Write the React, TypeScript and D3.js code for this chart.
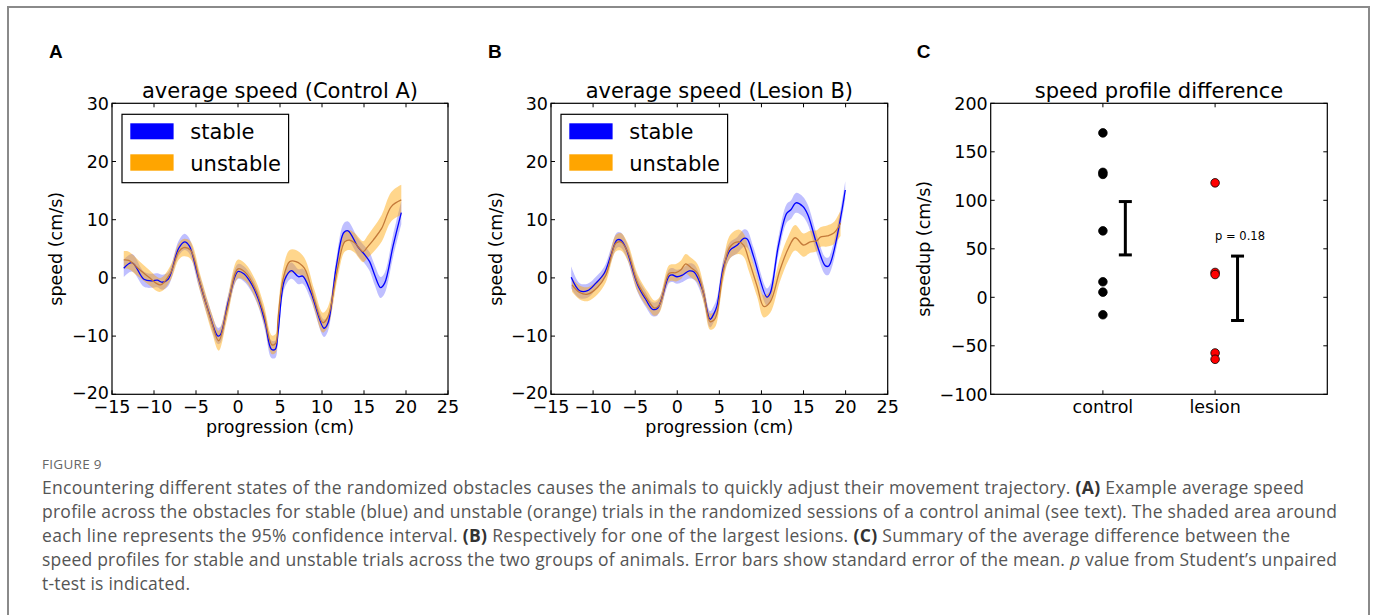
import React from "react";
import * as d3 from "d3";

// ---------- DATA ----------
// [progression (cm), mean speed (cm/s), 95% CI half-width]
const controlStable: [number, number, number][] = [
  [-13.6, 1.66, 1.5], [-12.6, 2.6, 1.5], [-11.2, -0.23, 1.3], [-10.2, -0.5, 1.2], [-9.6, -0.4, 1.2],
  [-9.0, -0.75, 1.3], [-8.3, -0.2, 1.2], [-7.06, 5.1, 1.3], [-6.35, 6.2, 1.4], [-5.8, 5.5, 1.3],
  [-4.7, -0.06, 1.3], [-3.5, -5.8, 1.3], [-2.4, -9.97, 1.4], [-2.1, -9.8, 1.4], [-1.1, -3.8, 1.3],
  [0.0, 1.1, 1.3], [0.7, 0.7, 1.3], [1.67, -1.2, 1.3], [2.46, -3.8, 1.3], [3.25, -7.8, 1.4],
  [3.97, -12.25, 1.5], [4.44, -12.25, 1.5], [4.76, -9.5, 1.4], [5.55, -0.34, 1.4], [6.35, 1.26, 1.4],
  [7.2, 0.2, 1.3], [7.7, 0.3, 1.3], [8.7, -2.6, 1.3], [10.24, -8.65, 1.5], [10.7, -7.8, 1.4],
  [11.7, 1.95, 1.4], [12.6, 7.8, 1.6], [13.1, 8.1, 1.6], [14.3, 5.27, 1.5], [15.1, 3.95, 1.5],
  [15.67, 2.8, 1.6], [16.27, 0.5, 1.7], [16.98, -1.66, 1.8], [17.46, -0.9, 1.8], [18.45, 5.4, 1.9],
  [19.44, 11.2, 2.0],
];
const controlUnstable: [number, number, number][] = [
  [-13.6, 3.1, 1.5], [-13.0, 3.0, 1.5], [-11.8, 1.55, 1.4], [-10.6, 0.1, 1.3], [-9.25, -1.2, 1.2],
  [-8.05, 0.8, 1.3], [-7.06, 4.5, 1.4], [-6.47, 5.2, 1.5], [-5.67, 4.8, 1.5], [-4.5, -0.9, 1.5],
  [-3.1, -7.8, 1.6], [-2.3, -10.8, 1.7], [-1.3, -5.5, 1.6], [0.0, 1.55, 1.6], [0.87, 0.95, 1.5],
  [2.06, -1.9, 1.6], [3.06, -6.1, 1.6], [4.05, -11.5, 1.6], [4.5, -11.2, 1.6], [4.76, -7.2, 1.7],
  [5.35, -0.3, 1.8], [6.15, 2.8, 2.0], [6.9, 2.8, 2.0], [7.9, 1.66, 1.8], [9.1, -3.8, 1.7],
  [10.1, -7.7, 1.7], [10.7, -6.7, 1.7], [11.9, 1.95, 1.7], [12.7, 6.2, 1.7], [13.3, 6.5, 1.7],
  [13.9, 6.0, 1.7], [14.9, 4.5, 1.8], [15.4, 5.3, 1.9], [16.1, 6.5, 2.1], [17.1, 8.5, 2.3],
  [18.25, 12.25, 2.5], [19.44, 13.4, 2.6],
];
const lesionStable: [number, number, number][] = [
  [-12.6, 0.1, 1.9], [-11.6, -2.2, 1.3], [-10.65, -2.2, 1.2], [-9.66, -0.9, 1.1], [-8.67, 0.8, 1.1],
  [-7.87, 3.95, 1.2], [-7.16, 6.5, 1.3], [-6.7, 6.5, 1.3], [-6.1, 5.1, 1.3], [-4.7, -1.2, 1.3],
  [-3.7, -3.8, 1.3], [-2.93, -5.4, 1.2], [-2.33, -5.2, 1.2], [-0.95, 0.35, 1.2], [-0.55, 0.5, 1.2],
  [-0.04, 0.2, 1.2], [0.64, 0.5, 1.2], [1.43, 1.2, 1.3], [2.0, 1.0, 1.3], [3.0, -2.06, 1.3],
  [3.9, -7.1, 1.4], [4.3, -6.3, 1.4], [4.7, -4.9, 1.4], [5.5, 1.95, 1.4], [6.3, 4.8, 1.4],
  [7.1, 5.6, 1.4], [7.9, 6.8, 1.5], [8.3, 6.7, 1.5], [9.07, 3.66, 1.5], [10.65, -3.3, 1.5],
  [11.05, -2.6, 1.5], [12.0, 5.4, 1.5], [13.0, 11.1, 1.6], [13.5, 11.7, 1.6], [14.1, 12.9, 1.7],
  [14.9, 12.3, 1.7], [15.5, 10.9, 1.7], [16.6, 5.7, 1.6], [17.6, 2.06, 1.5], [18.0, 2.06, 1.5],
  [19.96, 15.1, 1.5],
];
const lesionUnstable: [number, number, number][] = [
  [-12.5, -1.2, 1.2], [-11.6, -2.5, 1.2], [-10.65, -2.8, 1.2], [-9.46, -1.6, 1.2], [-8.5, 0.4, 1.2],
  [-7.3, 5.95, 1.4], [-6.7, 6.2, 1.5], [-5.9, 4.5, 1.5], [-4.7, -0.9, 1.5], [-3.5, -3.8, 1.4],
  [-2.7, -5.2, 1.3], [-2.1, -4.6, 1.3], [-0.95, 0.8, 1.4], [-0.15, 0.9, 1.5], [0.44, 1.4, 1.6],
  [1.0, 2.4, 1.7], [1.6, 1.8, 1.7], [2.4, 0.8, 1.6], [3.2, -3.2, 1.5], [3.9, -7.5, 1.4],
  [4.4, -7.2, 1.4], [4.7, -6.2, 1.5], [5.5, 1.4, 1.7], [6.3, 5.4, 2.0], [7.3, 6.2, 2.1],
  [7.9, 5.6, 2.0], [8.5, 3.1, 1.9], [9.5, -1.5, 1.8], [10.27, -4.9, 1.9], [11.05, -4.1, 1.9],
  [12.2, 1.37, 2.0], [13.2, 5.1, 2.1], [14.0, 6.9, 2.2], [15.0, 5.65, 2.0], [15.8, 6.2, 1.9],
  [16.6, 6.4, 1.8], [17.0, 7.0, 1.7], [17.8, 7.2, 1.8], [18.6, 7.7, 1.9], [19.4, 9.4, 2.2],
];

const xTicks = [-15, -10, -5, 0, 5, 10, 15, 20, 25];
const yTicks = [-20, -10, 0, 10, 20, 30];

const groups = ["control", "lesion"];
const controlSpeedup = [169.5, 128.8, 126.7, 68.5, 16, 5.3, -18];
const lesionSpeedup = [118, 25.6, 23.5, -57.4, -63.9];
const groupMean = [71.2, 9.3];
const groupSem = [27.5, 33.2];
const cTicks = [-100, -50, 0, 50, 100, 150, 200];
const pLabel = "p = 0.18";

// ---------- STYLE ----------
const FONT = "'DejaVu Sans', sans-serif";
const CAP_FONT = "'Open Sans', 'Noto Sans', sans-serif";
const LABEL_FONT = "'Liberation Sans', Arial, sans-serif";
const TICK = 17.5;
const TITLE = 21;
const BLUE = "#0000ff";
const ORANGE = "#ffa500";
const ORANGE_LINE = "#c47a3a";

const fmt = (v: number) => (v < 0 ? "\u2212" + Math.abs(v) : String(v));

type Box = { l: number; r: number; t: number; b: number };

function SpeedPanel({ box, title, stable, unstable, label, ylabelX }: {
  box: Box; title: string; stable: [number, number, number][]; unstable: [number, number, number][]; label: string; ylabelX: number;
}) {
  const x = d3.scaleLinear().domain([-15, 25]).range([box.l, box.r]);
  const y = d3.scaleLinear().domain([-20, 30]).range([box.b, box.t]);
  const curve = d3.curveCatmullRom.alpha(0.5);
  const area = d3.area<[number, number, number]>()
    .x((d) => x(d[0])).y0((d) => y(d[1] - d[2])).y1((d) => y(d[1] + d[2])).curve(curve);
  const line = d3.line<[number, number, number]>().x((d) => x(d[0])).y((d) => y(d[1])).curve(curve);
  const lx = box.l + 10, ly = box.t + 11;
  return (
    <g fontFamily={FONT}>
      <text x={box.l - 63} y={58} fontFamily={LABEL_FONT} fontWeight={700} fontSize={19} fill="#000">{label}</text>
      <text x={(box.l + box.r) / 2} y={98} textAnchor="middle" fontSize={TITLE}>{title}</text>
      <path d={area(stable) || ""} fill={BLUE} fillOpacity={0.25} />
      <path d={area(unstable) || ""} fill={ORANGE} fillOpacity={0.45} />
      <path d={line(stable) || ""} fill="none" stroke={BLUE} strokeWidth={1.3} />
      <path d={line(unstable) || ""} fill="none" stroke={ORANGE_LINE} strokeWidth={1.3} />
      {xTicks.map((t) => (
        <g key={"x" + t}>
          <line x1={x(t)} x2={x(t)} y1={box.b} y2={box.b - 4} stroke="#000" />
          <line x1={x(t)} x2={x(t)} y1={box.t} y2={box.t + 4} stroke="#000" />
          <text x={x(t)} y={box.b + 18.5} textAnchor="middle" fontSize={TICK}>{fmt(t)}</text>
        </g>
      ))}
      {yTicks.map((t) => (
        <g key={"y" + t}>
          <line x1={box.l} x2={box.l + 4} y1={y(t)} y2={y(t)} stroke="#000" />
          <line x1={box.r} x2={box.r - 4} y1={y(t)} y2={y(t)} stroke="#000" />
          <text x={box.l - 3} y={y(t) - (t === -20 ? 2 : 0)} dy="0.36em" textAnchor="end" fontSize={TICK}>{fmt(t)}</text>
        </g>
      ))}
      <rect x={box.l} y={box.t} width={box.r - box.l} height={box.b - box.t} fill="none" stroke="#000" strokeWidth={1.2} />
      <text x={(box.l + box.r) / 2} y={433} textAnchor="middle" fontSize={TICK}>progression (cm)</text>
      <text transform={`translate(${ylabelX},${(box.t + box.b) / 2}) rotate(-90)`} textAnchor="middle" fontSize={TICK}>speed (cm/s)</text>
      <g>
        <rect x={lx} y={ly} width={166.6} height={68.4} fill="#fff" stroke="#000" strokeWidth={1.2} />
        <rect x={lx + 8.3} y={ly + 9} width={43.3} height={16} fill={BLUE} />
        <rect x={lx + 8.3} y={ly + 40} width={43.3} height={16.4} fill={ORANGE} />
        <text x={lx + 68.3} y={ly + 25} fontSize={TITLE}>stable</text>
        <text x={lx + 68.3} y={ly + 56.4} fontSize={TITLE}>unstable</text>
      </g>
    </g>
  );
}

function DiffPanel({ box }: { box: Box }) {
  const x = d3.scaleLinear().domain([-1, 2]).range([box.l, box.r]);
  const y = d3.scaleLinear().domain([-100, 200]).range([box.b, box.t]);
  const pts = [controlSpeedup, lesionSpeedup];
  return (
    <g fontFamily={FONT}>
      <text x={box.l - 74} y={58} fontFamily={LABEL_FONT} fontWeight={700} fontSize={19} fill="#000">C</text>
      <text x={(box.l + box.r) / 2} y={98} textAnchor="middle" fontSize={TITLE}>speed profile difference</text>
      {groups.map((g, i) => (
        <g key={g}>
          <line x1={x(i)} x2={x(i)} y1={box.b} y2={box.b - 4} stroke="#000" />
          <line x1={x(i)} x2={x(i)} y1={box.t} y2={box.t + 4} stroke="#000" />
          <text x={x(i)} y={box.b + 18.5} textAnchor="middle" fontSize={TICK}>{g}</text>
          {pts[i].map((v, j) => (
            <circle key={j} cx={x(i)} cy={y(v)} r={4.3} fill={i === 0 ? "#000" : "#ff0000"} stroke="#000" strokeWidth={0.8} />
          ))}
          <g stroke="#000" strokeWidth={3}>
            <line x1={x(i + 0.2)} x2={x(i + 0.2)} y1={y(groupMean[i] - groupSem[i])} y2={y(groupMean[i] + groupSem[i])} />
            <line x1={x(i + 0.2) - 6.5} x2={x(i + 0.2) + 6.5} y1={y(groupMean[i] - groupSem[i])} y2={y(groupMean[i] - groupSem[i])} />
            <line x1={x(i + 0.2) - 6.5} x2={x(i + 0.2) + 6.5} y1={y(groupMean[i] + groupSem[i])} y2={y(groupMean[i] + groupSem[i])} />
          </g>
        </g>
      ))}
      {cTicks.map((t) => (
        <g key={t}>
          <line x1={box.l} x2={box.l + 4} y1={y(t)} y2={y(t)} stroke="#000" />
          <line x1={box.r} x2={box.r - 4} y1={y(t)} y2={y(t)} stroke="#000" />
          <text x={box.l - 3} y={y(t)} dy="0.36em" textAnchor="end" fontSize={TICK}>{fmt(t)}</text>
        </g>
      ))}
      <text x={x(1)} y={240} fontSize={11.5}>{pLabel}</text>
      <rect x={box.l} y={box.t} width={box.r - box.l} height={box.b - box.t} fill="none" stroke="#000" strokeWidth={1.2} />
      <text transform={`translate(930,${(box.t + box.b) / 2}) rotate(-90)`} textAnchor="middle" fontSize={TICK}>speedup (cm/s)</text>
    </g>
  );
}

const captionColor = "#555";
const boldColor = "#333";

export default function App() {
  const boxA: Box = { l: 112, r: 448, t: 103.3, b: 394.3 };
  const boxB: Box = { l: 551, r: 887.7, t: 103.3, b: 394.3 };
  const boxC: Box = { l: 990.7, r: 1327.3, t: 103.3, b: 394.3 };
  const cx = 42;
  return (
    <svg width={1375} height={615} style={{ position: "absolute", left: 0, top: 0, background: "#fff" }}>
      <rect x={0} y={0} width={1375} height={615} fill="#fff" />
      <path d="M8,620 L8,7 L1369,7 L1369,620" fill="none" stroke="#8a8a8a" strokeWidth={2} />
      <SpeedPanel box={boxA} title="average speed (Control A)" stable={controlStable} unstable={controlUnstable} label="A" ylabelX={62} />
      <SpeedPanel box={boxB} title="average speed (Lesion B)" stable={lesionStable} unstable={lesionUnstable} label="B" ylabelX={502} />
      <DiffPanel box={boxC} />
      <g fontFamily={CAP_FONT} fill={captionColor}>
        <text x={cx} y={469} fontSize={13.5} letterSpacing={0.3} fill="#666">FIGURE 9</text>
        <text x={cx} y={494} fontSize={17.5} textLength={1262} lengthAdjust="spacing">
          Encountering different states of the randomized obstacles causes the animals to quickly adjust their movement trajectory. <tspan fontWeight={700} fill={boldColor}>(A)</tspan> Example average speed
        </text>
        <text x={cx} y={518} fontSize={17.5} textLength={1295} lengthAdjust="spacing">
          profile across the obstacles for stable (blue) and unstable (orange) trials in the randomized sessions of a control animal (see text). The shaded area around
        </text>
        <text x={cx} y={542} fontSize={17.5} textLength={1248} lengthAdjust="spacing">
          each line represents the 95% confidence interval. <tspan fontWeight={700} fill={boldColor}>(B)</tspan> Respectively for one of the largest lesions. <tspan fontWeight={700} fill={boldColor}>(C)</tspan> Summary of the average difference between the
        </text>
        <text x={cx} y={566} fontSize={17.5} textLength={1295} lengthAdjust="spacing">
          speed profiles for stable and unstable trials across the two groups of animals. Error bars show standard error of the mean. <tspan fontStyle="italic">p</tspan> value from Student’s unpaired
        </text>
        <text x={cx} y={590} fontSize={17.5} textLength={148} lengthAdjust="spacing">t-test is indicated.</text>
      </g>
    </svg>
  );
}
